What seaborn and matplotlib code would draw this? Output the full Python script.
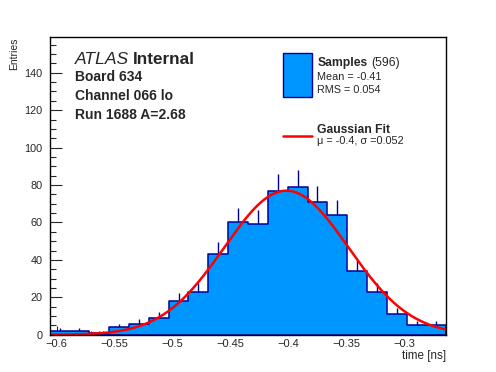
import numpy as np
import pandas as pd
import matplotlib
matplotlib.use("Agg")
import matplotlib.pyplot as plt
from matplotlib.patches import Rectangle
from matplotlib.lines import Line2D
from matplotlib.ticker import MultipleLocator, FuncFormatter
import seaborn as sns

# histogram of timing samples (20 bins)
x_lo, x_hi = -0.6061, -0.2640
n_bins = 20
counts = [2, 2, 1, 4, 6, 9, 18, 23, 43, 60,
          59, 77, 79, 71, 64, 34, 23, 11, 5, 5]

# gaussian fit result
fit_mu = -0.402
fit_sigma = 0.0535
fit_amp = 77.0

# labels
label_lines = ["Board 634", "Channel 066 lo", "Run 1688 A=2.68"]
n_samples = 596
mean_txt = "Mean = -0.41"
rms_txt = "RMS = 0.054"
fit_txt = "\u03bc = -0.4, \u03c3 =0.052"

FILL = "#0096ff"
EDGE = "#000099"
W, H = 496, 372

sns.set_style("white")
plt.rcParams["font.family"] = ["Liberation Sans", "DejaVu Sans"]

edges = np.linspace(x_lo, x_hi, n_bins + 1)
centers = 0.5 * (edges[:-1] + edges[1:])
df = pd.DataFrame({"time": centers, "n": counts})

fig = plt.figure(figsize=(W / 100, H / 100), dpi=100)
ax = fig.add_axes([0.1, 0.1, 0.8, 0.8])

# error bars (upper half visible above the fill)
err = np.sqrt(df["n"])
ax.vlines(df["time"], df["n"], df["n"] + err, color=EDGE, lw=1.0, zorder=1)

sns.histplot(data=df, x="time", weights="n", bins=n_bins, binrange=(x_lo, x_hi),
             element="step", fill=True, color=FILL, edgecolor=EDGE, linewidth=1.1,
             alpha=1, ax=ax, zorder=2)

# fit curve
xs = np.linspace(x_lo, x_hi, 400)
ys = fit_amp * np.exp(-0.5 * ((xs - fit_mu) / fit_sigma) ** 2)
sns.lineplot(x=xs, y=ys, color="red", lw=1.8, ax=ax, zorder=3)

ax.set_xlim(x_lo, x_hi)
ax.set_ylim(0, 159)
ax.set_xlabel("")
ax.set_ylabel("")

ax.xaxis.set_major_locator(MultipleLocator(0.05))
ax.xaxis.set_minor_locator(MultipleLocator(0.01))
ax.yaxis.set_major_locator(MultipleLocator(20))
ax.yaxis.set_minor_locator(MultipleLocator(5))
ax.xaxis.set_major_formatter(FuncFormatter(lambda v, p: ("%g" % round(v, 3)).replace("-", "\u2212")))
ax.yaxis.set_major_formatter(FuncFormatter(lambda v, p: "%d" % v))

ax.tick_params(axis="x", which="major", direction="in", length=6.5, width=0.8,
               labelsize=8, pad=3, bottom=True, top=False)
ax.tick_params(axis="x", which="minor", direction="in", length=3.2, width=0.8,
               bottom=True, top=False)
ax.tick_params(axis="y", which="major", direction="in", length=8.6, width=0.8,
               labelsize=7.8, pad=5, left=True, right=False)
ax.tick_params(axis="y", which="minor", direction="in", length=4.3, width=0.8,
               left=True, right=False)
for s in ax.spines.values():
    s.set_color("black")
    s.set_linewidth(1.0)
    s.set_zorder(5)


def fx(px):
    return px / W


def fy(py):
    return 1 - py / H


# axis titles
fig.text(fx(446), fy(359), "time [ns]", ha="right", va="baseline", fontsize=8.4)
fig.text(fx(19), fy(37.3), "Entries", ha="right", va="top", rotation=90, fontsize=7.5)

# ATLAS label block
fig.text(fx(75), fy(64.3), "ATLAS", style="italic", fontsize=12.6, va="baseline")
fig.text(fx(133), fy(64.3), "Internal", weight="bold", fontsize=12.3, va="baseline")
for i, line in enumerate(label_lines):
    fig.text(fx(75), fy(80.7 + 19.2 * i), line, weight="bold", fontsize=10, va="baseline")

# legend
fig.add_artist(Rectangle((fx(283.3), fy(96.7)), (311.7 - 283.3) / W, (96.7 - 53.3) / H,
                         transform=fig.transFigure, facecolor=FILL, edgecolor=EDGE, lw=1.0))
fig.text(fx(317.3), fy(66), "Samples", weight="bold", fontsize=8.7, va="baseline")
fig.text(fx(371), fy(66), "(%d)" % n_samples, fontsize=8.7, va="baseline")
fig.text(fx(317.3), fy(80), mean_txt, fontsize=7.8, va="baseline")
fig.text(fx(317.3), fy(93.3), rms_txt, fontsize=7.8, va="baseline")
fig.add_artist(Line2D([fx(283.3), fx(311.7)], [fy(136), fy(136)],
                      transform=fig.transFigure, color="red", lw=1.8))
fig.text(fx(317.3), fy(132.7), "Gaussian Fit", weight="bold", fontsize=8.7, va="baseline")
fig.text(fx(317.3), fy(144), fit_txt, fontsize=7.8, va="baseline")

fig.savefig("out.png", dpi=100, facecolor="white")
plt.close(fig)
